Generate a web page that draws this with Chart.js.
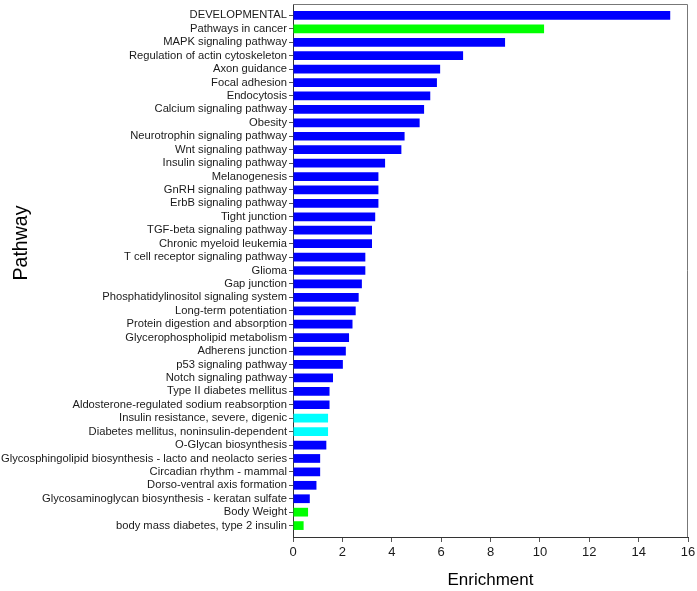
<!DOCTYPE html>
<html>
<head>
<meta charset="utf-8">
<script src="https://cdn.jsdelivr.net/npm/chart.js@4.4.0/dist/chart.umd.min.js"></script>
<style>
    html, body { margin: 0; padding: 0; background: #fff; }
    #contenedor { width: 697px; height: 591px; }
</style>
</head>
<body>
<div id="contenedor"><canvas id="grafica" width="697" height="591"></canvas></div>
<script>
const pathways = [
    "DEVELOPMENTAL",
    "Pathways in cancer",
    "MAPK signaling pathway",
    "Regulation of actin cytoskeleton",
    "Axon guidance",
    "Focal adhesion",
    "Endocytosis",
    "Calcium signaling pathway",
    "Obesity",
    "Neurotrophin signaling pathway",
    "Wnt signaling pathway",
    "Insulin signaling pathway",
    "Melanogenesis",
    "GnRH signaling pathway",
    "ErbB signaling pathway",
    "Tight junction",
    "TGF-beta signaling pathway",
    "Chronic myeloid leukemia",
    "T cell receptor signaling pathway",
    "Glioma",
    "Gap junction",
    "Phosphatidylinositol signaling system",
    "Long-term potentiation",
    "Protein digestion and absorption",
    "Glycerophospholipid metabolism",
    "Adherens junction",
    "p53 signaling pathway",
    "Notch signaling pathway",
    "Type II diabetes mellitus",
    "Aldosterone-regulated sodium reabsorption",
    "Insulin resistance, severe, digenic",
    "Diabetes mellitus, noninsulin-dependent",
    "O-Glycan biosynthesis",
    "Glycosphingolipid biosynthesis - lacto and neolacto series",
    "Circadian rhythm - mammal",
    "Dorso-ventral axis formation",
    "Glycosaminoglycan biosynthesis - keratan sulfate",
    "Body Weight",
    "body mass diabetes, type 2 insulin"
];

const enrichment = [
    15.28, 10.17, 8.59, 6.89, 5.96, 5.83, 5.56, 5.31, 5.13, 4.52,
    4.39, 3.73, 3.46, 3.46, 3.46, 3.33, 3.20, 3.20, 2.93, 2.93,
    2.79, 2.66, 2.54, 2.41, 2.27, 2.14, 2.02, 1.62, 1.48, 1.48,
    1.42, 1.42, 1.35, 1.10, 1.10, 0.95, 0.68, 0.61, 0.43
];

const xTicks = [0, 2, 4, 6, 8, 10, 12, 14, 16];

const verdes = ["Pathways in cancer", "Body Weight", "body mass diabetes, type 2 insulin"];
const cianes = ["Insulin resistance, severe, digenic", "Diabetes mellitus, noninsulin-dependent"];

function colorBarra(nombre) {
    if (verdes.includes(nombre)) return "#00ff00";
    if (cianes.includes(nombre)) return "#00ffff";
    return "#0000ff";
}

const fuente = "'Liberation Sans', Arial, sans-serif";

// marco gris arriba y a la derecha + titulo vertical
const marco = {
    id: "marco",
    afterDraw(chart) {
        const { ctx, chartArea: a } = chart;
        ctx.save();
        ctx.strokeStyle = "#777";
        ctx.lineWidth = 1;
        ctx.beginPath();
        ctx.moveTo(a.left, a.top + 0.5);
        ctx.lineTo(a.right - 0.5, a.top + 0.5);
        ctx.lineTo(a.right - 0.5, a.bottom);
        ctx.stroke();

        ctx.translate(22, 243);
        ctx.rotate(-Math.PI / 2);
        ctx.font = "19.5px " + fuente;
        ctx.fillStyle = "#000";
        ctx.textAlign = "center";
        ctx.textBaseline = "middle";
        ctx.fillText("Pathway", 0, 0);
        ctx.restore();
    }
};

const ctx = document.getElementById("grafica").getContext("2d");
window.grafica = new Chart(ctx, {
    type: "bar",
    data: {
        datasets: [{
            data: enrichment.map((v, i) => ({ x: v, y: i })),
            backgroundColor: pathways.map(colorBarra),
            categoryPercentage: 1,
            barPercentage: 0.65
        }]
    },
    options: {
        indexAxis: "y",
        responsive: false,
        animation: false,
        devicePixelRatio: 1,
        layout: { padding: { top: 4, right: 9, left: 0, bottom: 0 } },
        plugins: { legend: { display: false }, tooltip: { enabled: false } },
        scales: {
            y: {
                type: "linear",
                bounds: "data",
                offset: false,
                reverse: true,
                min: -0.85,
                max: pathways.length - 1 + 0.85,
                afterBuildTicks: s => { s.ticks = pathways.map((_, i) => ({ value: i })); },
                afterFit: s => { s.width = 293; s.paddingTop = 0; s.paddingBottom = 0; },
                ticks: {
                    autoSkip: false,
                    callback: v => pathways[v],
                    font: { family: fuente, size: 11.2 },
                    color: "#1a1a1a",
                    padding: 2
                },
                grid: { offset: false, drawOnChartArea: false, tickLength: 4, color: "#555" },
                border: { color: "#333" }
            },
            x: {
                type: "linear",
                bounds: "data",
                min: 0,
                max: 16,
                afterBuildTicks: s => { s.ticks = xTicks.map(v => ({ value: v })); },
                afterFit: s => { s.height = 54; s.paddingLeft = 0; s.paddingRight = 0; },
                ticks: {
                    font: { family: fuente, size: 13 },
                    color: "#1a1a1a",
                    padding: 3
                },
                grid: { drawOnChartArea: false, tickLength: 5, color: "#555" },
                border: { color: "#333" },
                title: {
                    display: true,
                    text: "Enrichment",
                    font: { family: fuente, size: 17 },
                    color: "#000",
                    padding: { top: 0, bottom: 0 }
                }
            }
        }
    },
    plugins: [marco]
});
</script>
</body>
</html>
